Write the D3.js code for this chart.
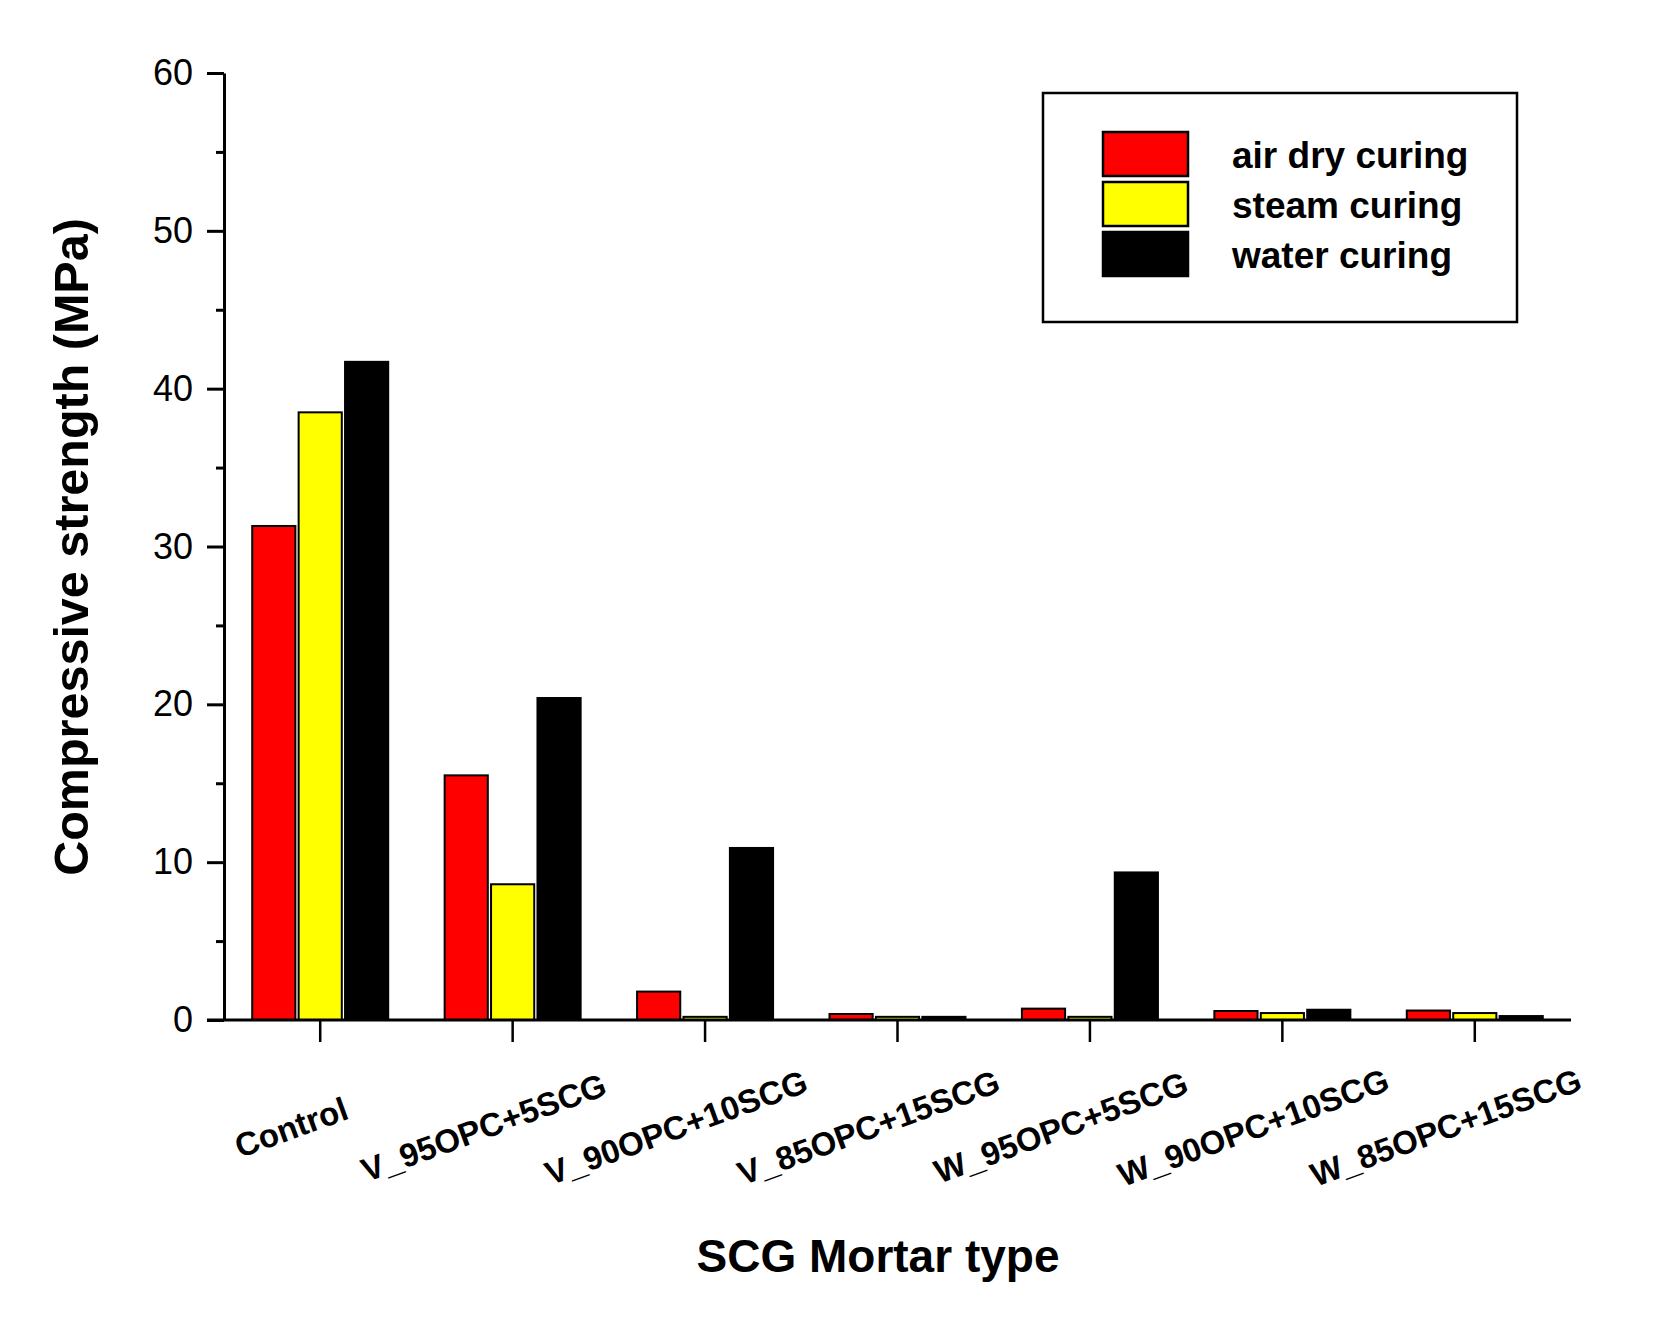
<!DOCTYPE html>
<html><head><meta charset="utf-8">
<script src="https://cdn.jsdelivr.net/npm/d3@7"></script>
<style>body{margin:0;background:#fff}svg{display:block}text{font-family:"Liberation Sans",Arial,sans-serif}</style>
</head><body><svg id="c" width="1662" height="1322"></svg>
<script>
const categories = ["Control","V_95OPC+5SCG","V_90OPC+10SCG","V_85OPC+15SCG","W_95OPC+5SCG","W_90OPC+10SCG","W_85OPC+15SCG"];
const series = ["air dry curing","steam curing","water curing"];
const airDry = [31.3, 15.5, 1.8, 0.38, 0.72, 0.57, 0.6];
const steam  = [38.5, 8.6, 0.2, 0.2, 0.2, 0.44, 0.44];
const water  = [41.7, 20.4, 10.9, 0.2, 9.35, 0.65, 0.25];
const colors = ["#ff0000","#ffff00","#000000"];
const yTicks = [0,10,20,30,40,50,60];
const yMinor = [5,15,25,35,45,55];

const values = [airDry, steam, water];
const svg = d3.select("#c");
const x = d3.scaleBand().domain(categories).range([224,1571]).paddingInner(0).paddingOuter(0);
const y = d3.scaleLinear().domain([0,60]).range([1020,73]);
const x1 = d3.scaleBand().domain(series).range([-68,68]).paddingInner(0.07);

// bars
categories.forEach((c,i)=>{
  series.forEach((s,j)=>{
    const v = values[j][i];
    svg.append("rect")
      .attr("x", x(c)+x.bandwidth()/2 + x1(s))
      .attr("y", y(v))
      .attr("width", x1.bandwidth())
      .attr("height", y(0)-y(v))
      .attr("fill", colors[j])
      .attr("stroke","#000").attr("stroke-width",2);
  });
});

// y axis
const yAxis = svg.append("g").attr("transform","translate(224,0)")
  .call(d3.axisLeft(y).tickValues(yTicks).tickSize(17).tickPadding(14).tickSizeOuter(0));
yAxis.selectAll("text").attr("font-size",36).attr("fill","#000").attr("font-family","'Liberation Sans',Arial");
yAxis.select(".domain").attr("stroke-width",3);
yAxis.selectAll(".tick line").attr("stroke-width",3);
svg.append("g").attr("transform","translate(224,0)")
  .call(d3.axisLeft(y).tickValues(yMinor).tickSize(8).tickFormat("").tickSizeOuter(0))
  .call(g=>{g.select(".domain").remove(); g.selectAll("line").attr("stroke-width",3);});

// x axis
const xAxis = svg.append("g").attr("transform","translate(0,1020)")
  .call(d3.axisBottom(x).tickSize(22).tickSizeOuter(0));
xAxis.select(".domain").attr("d","M207,0H1571").attr("stroke-width",3);
xAxis.selectAll(".tick line").attr("stroke-width",2.5);
xAxis.selectAll(".tick text")
  .attr("font-size",33).attr("font-weight","bold").attr("fill","#000")
  .attr("font-family","'Liberation Sans',Arial")
  .attr("text-anchor","middle").attr("dy",null).attr("y",null)
  .attr("dominant-baseline","middle")
  .attr("transform","translate(-28,110) rotate(-20)");

// axis titles
svg.append("text").attr("x",878).attr("y",1272).attr("text-anchor","middle")
  .attr("font-size",46).attr("font-weight","bold").text("SCG Mortar type");
svg.append("text").attr("transform","translate(88,547) rotate(-90)").attr("text-anchor","middle")
  .attr("font-size",48.5).attr("font-weight","bold").text("Compressive strength (MPa)");

// legend
svg.append("rect").attr("x",1043).attr("y",93).attr("width",474).attr("height",229)
  .attr("fill","none").attr("stroke","#000").attr("stroke-width",2.5);
const lg = svg.append("g");
series.forEach((s,j)=>{
  lg.append("rect").attr("x",1103).attr("y",132+j*50).attr("width",85).attr("height",44)
    .attr("fill",colors[j]).attr("stroke","#000").attr("stroke-width",2.5);
  lg.append("text").attr("x",1232).attr("y",168+j*50).attr("font-size",37).attr("font-weight","bold").text(s);
});
</script></body></html>
